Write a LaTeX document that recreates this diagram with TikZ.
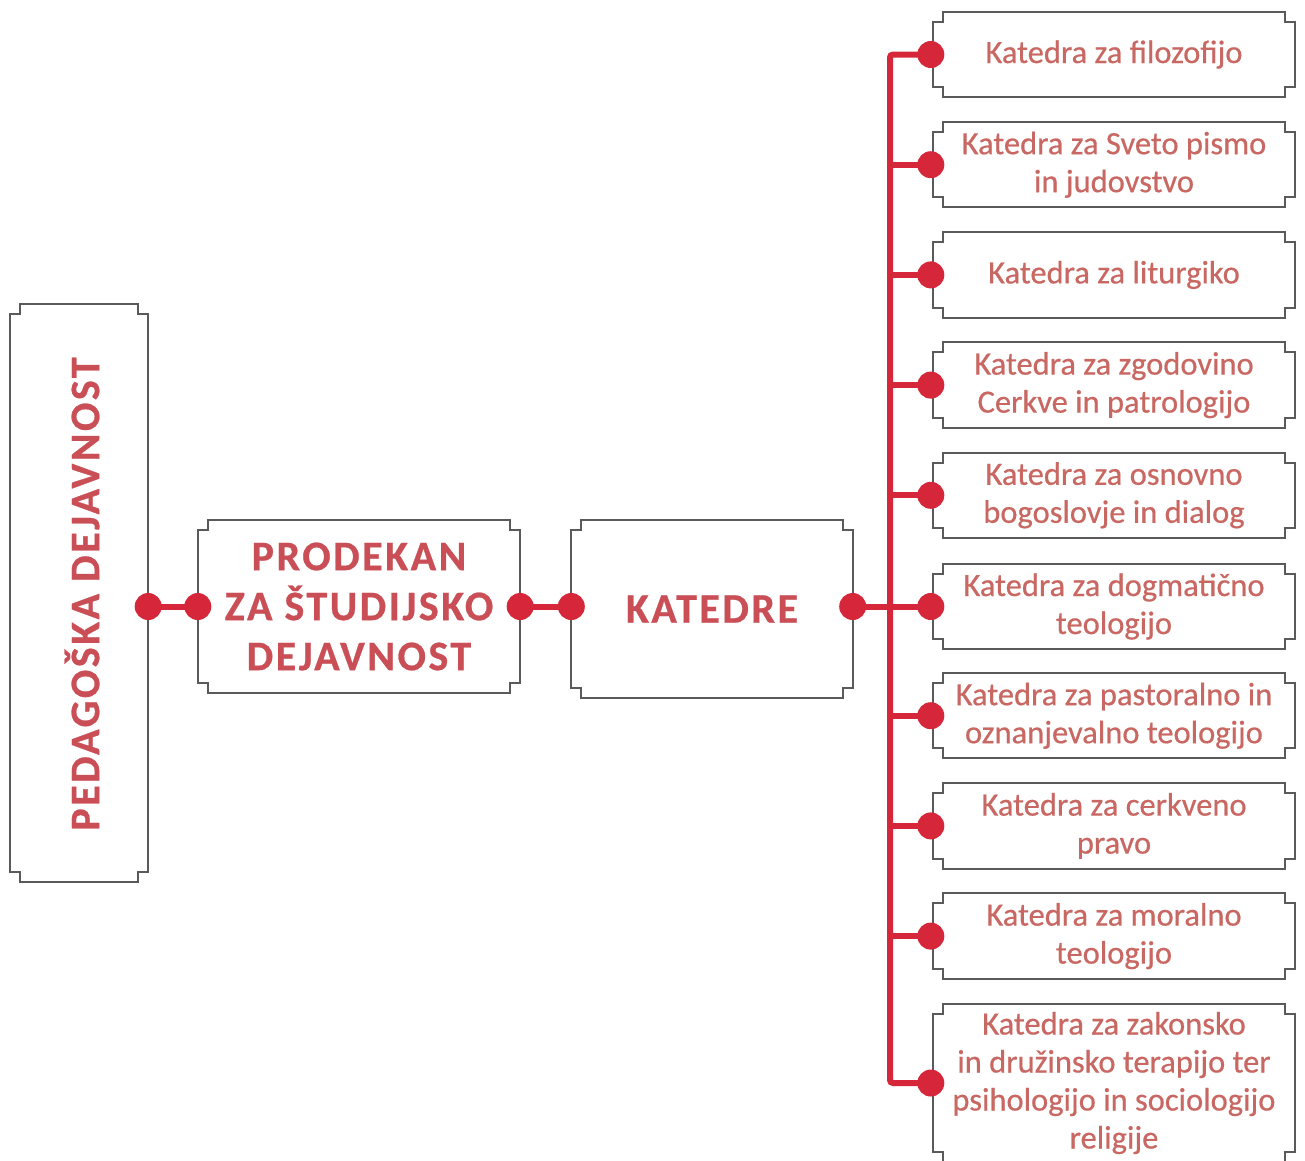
\documentclass[tikz,border=0pt]{standalone}
\usepackage{fontspec}
\setmainfont{Carlito}
\newfontfamily\titlefont[LetterSpace=6,FakeBold=0.6]{Carlito}
\newfontfamily\subfont[FakeBold=0.5]{Carlito}
\usetikzlibrary{calc}
\definecolor{redline}{RGB}{214,38,58}
\definecolor{titlecol}{RGB}{201,78,86}
\definecolor{textcol}{RGB}{201,104,98}
\definecolor{framecol}{RGB}{90,90,90}
\newcommand\notchframe[1]{%
 \draw[frame] ([xshift=10pt]#1.north west) -- ([xshift=-10pt]#1.north east) -- ([xshift=-10pt,yshift=-10pt]#1.north east) -- ([yshift=-10pt]#1.north east) -- ([yshift=10pt]#1.south east) -- ([xshift=-10pt,yshift=10pt]#1.south east) -- ([xshift=-10pt]#1.south east) -- ([xshift=10pt]#1.south west) -- ([xshift=10pt,yshift=10pt]#1.south west) -- ([yshift=10pt]#1.south west) -- ([yshift=-10pt]#1.north west) -- ([xshift=10pt,yshift=-10pt]#1.north west) -- cycle;}
\tikzset{
 frame/.style={draw=framecol, line width=2pt, line join=miter},
 boxn/.style={rectangle, inner sep=0pt, draw=none},
 title/.style={font=\titlefont\bfseries\fontsize{42}{50}\selectfont, text=titlecol, align=center, inner sep=0pt},
 sub/.style={boxn, minimum width=362pt, minimum height=85pt, font=\subfont\fontsize{32.5}{38}\selectfont, text=textcol, align=center},
 conn/.style={draw=redline, line width=6pt},
 dotn/.style={circle, fill=redline, minimum size=27pt, inner sep=0pt},
}
\begin{document}
\begin{tikzpicture}[x=1pt,y=-1pt]
\useasboundingbox (0,0) rectangle (1305,1160);
\clip (0,0) rectangle (1305,1160);
\fill[white] (0,0) rectangle (1305,1160);
% main boxes
\node[boxn, minimum width=138pt, minimum height=578pt] (ped) at (79,593) {};
\node[title, rotate=90] (pedt) at (82,594) {PEDAGOŠKA DEJAVNOST};
\node[boxn, minimum width=322pt, minimum height=172pt, title] (pro) at (359,606.5) {PRODEKAN\\ZA ŠTUDIJSKO\\DEJAVNOST};
\node[boxn, minimum width=281pt, minimum height=177pt, title] (kat) at (712,609) {KATEDRE};
% sub boxes
\node[sub] (r1) at (1114,54.5) {Katedra za filozofijo};
\node[sub] (r2) at (1114,164.7) {Katedra za Sveto pismo\\in judovstvo};
\node[sub] (r3) at (1114,274.9) {Katedra za liturgiko};
\node[sub] (r4) at (1114,385.1) {Katedra za zgodovino\\Cerkve in patrologijo};
\node[sub] (r5) at (1114,495.3) {Katedra za osnovno\\bogoslovje in dialog};
\node[sub] (r6) at (1114,606.5) {Katedra za dogmatično\\teologijo};
\node[sub] (r7) at (1114,715.7) {Katedra za pastoralno in\\oznanjevalno teologijo};
\node[sub] (r8) at (1114,825.9) {Katedra za cerkveno\\pravo};
\node[sub] (r9) at (1114,936.1) {Katedra za moralno\\teologijo};
\node[sub, minimum height=158pt] (r10) at (1114,1083) {Katedra za zakonsko\\in družinsko terapijo ter\\psihologijo in sociologijo\\religije};
\foreach \b in {ped,pro,kat,r1,r2,r3,r4,r5,r6,r7,r8,r9,r10} {\notchframe{\b}}
% connectors
\coordinate (ttop) at (890,54.5);
\coordinate (tbot) at (890,1083);
\draw[conn] (ped.east |- pro.west) -- (pro.west);
\draw[conn] (pro.east) -- (kat.west |- pro.east);
\draw[conn] (kat.east |- pro.east) -- (r6.west);
\draw[conn, rounded corners=3pt] (r1.west) -- (ttop) -- (tbot) -- (r10.west);
\foreach \b in {r2,r3,r4,r5,r7,r8,r9} {\draw[conn] (\b.west) -- (\b.west -| ttop);}
% dots
\node[dotn] (d1) at (ped.east |- pro.west) {};
\node[dotn] (d2) at (pro.west) {};
\node[dotn] (d3) at (pro.east) {};
\node[dotn] (d4) at (kat.west |- pro.east) {};
\node[dotn] (d5) at (kat.east |- pro.east) {};
\foreach \b in {r1,r2,r3,r4,r5,r6,r7,r8,r9,r10} {\node[dotn] (dot\b) at ([xshift=-2pt]\b.west) {};}
\end{tikzpicture}
\end{document}
